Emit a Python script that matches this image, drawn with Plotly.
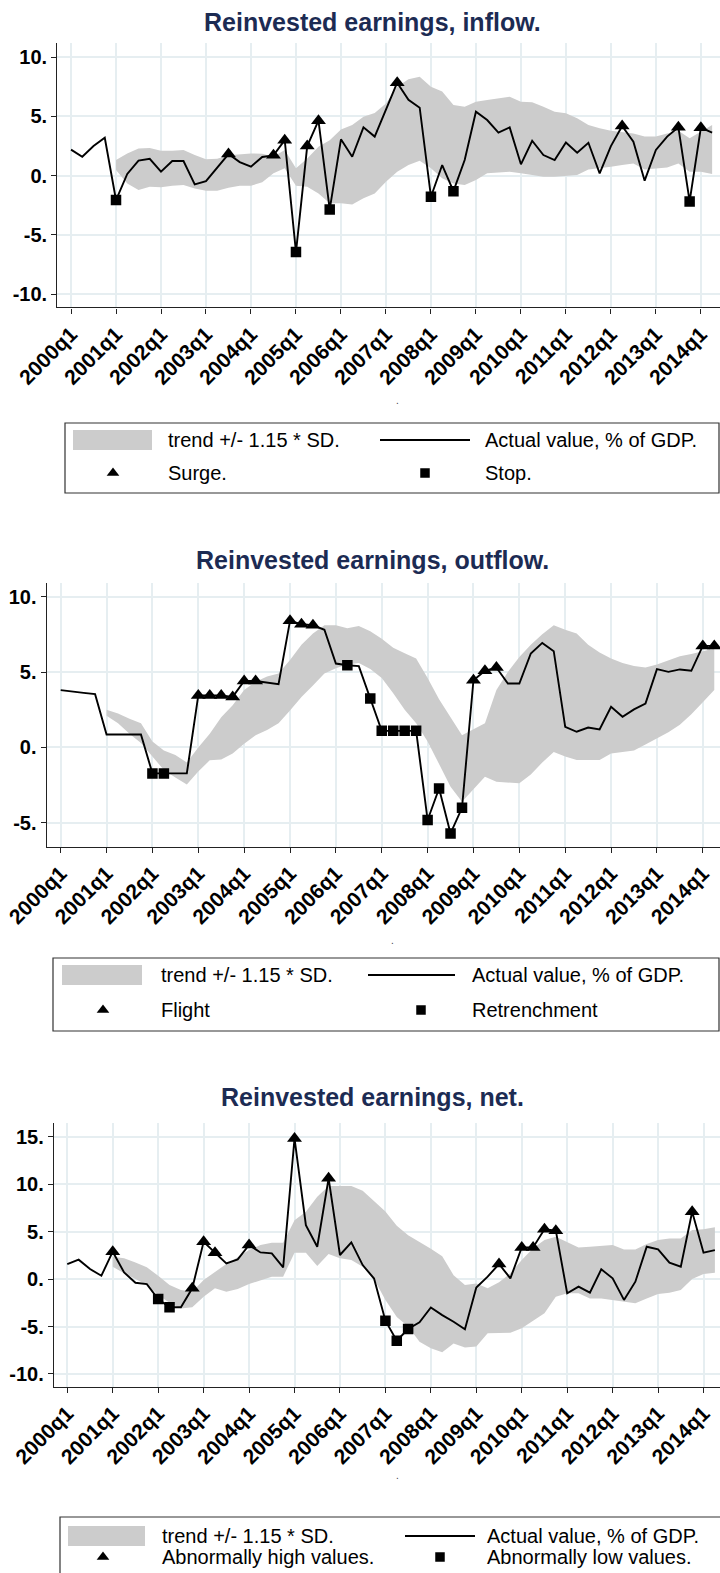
import plotly.graph_objects as go

W, H = 720, 1573
FONT = "Liberation Sans, Arial, sans-serif"
TITLE_COLOR = "#1c2b53"
BAND_COLOR = "#cccccc"
GRID_COLOR = "#e6eef1"

# ---------------- data ----------------
quarters = [f"{y}q{q}" for y in range(2000, 2015) for q in range(1, 5)][:58]
tick_labels = ["2000q1", "2001q1", "2002q1", "2003q1", "2004q1", "2005q1", "2006q1",
               "2007q1", "2008q1", "2009q1", "2010q1", "2011q1", "2012q1", "2013q1", "2014q1"]
band_quarters = quarters[4:]  # trend band starts in 2001q1

inflow_actual = [2.2, 1.6, 2.5, 3.2, -2.05, 0.15, 1.27, 1.43, 0.34, 1.24,
                 1.24, -0.73, -0.45, 0.68, 1.83, 1.15, 0.76, 1.58, 1.72, 3.0,
                 -6.44, 2.5, 4.64, -2.84, 3.07, 1.6, 4.08, 3.3, 5.5, 7.85,
                 6.4, 5.74, -1.77, 0.9, -1.3, 1.32, 5.4, 4.7, 3.63, 4.08,
                 0.96, 2.95, 1.74, 1.32, 2.8, 1.94, 2.78, 0.2, 2.5, 4.19,
                 2.87, -0.42, 2.17, 3.3, 4.08, -2.17, 4.05, 3.63]
inflow_upper = [1.32, 1.88, 2.3, 2.33, 2.1, 2.1, 2.17, 1.74, 1.38, 1.43,
                1.72, 1.83, 1.88, 1.86, 1.6, 2.17, 0.62, 1.46, 2.45, 3.0,
                3.9, 4.28, 4.98, 5.3, 6.1, 7.5, 8.13, 8.35, 7.5, 7.1,
                5.96, 5.82, 6.24, 6.38, 6.5, 6.67, 6.24, 6.19, 5.82, 5.4,
                5.26, 4.84, 4.28, 4.0, 3.8, 3.71, 3.57, 3.3, 3.3, 3.57,
                3.8, 3.15, 3.71, 4.28]
inflow_lower = [0.48, -0.65, -1.2, -0.93, -0.98, -0.84, -0.79, -1.07, -1.27, -1.27,
                -1.01, -0.84, -0.84, -0.56, 0.2, 0.62, -0.84, -0.93, -1.49, -2.33,
                -2.33, -2.42, -1.91, -1.49, -0.5, 0.34, 0.9, 1.27, 0.62, -0.22,
                -0.65, -0.79, -0.37, 0.2, 0.28, 0.34, 0.2, 0.06, -0.08, -0.08,
                -0.03, 0.06, 0.53, 0.62, 0.76, 0.9, 1.04, 0.53, 0.62, 0.7,
                1.04, 0.34, 0.34, 0.14]
inflow_high_idx = [14, 18, 19, 21, 22, 29, 49, 54, 56]
inflow_low_idx = [4, 20, 23, 32, 34, 55]

outflow_actual = [3.8, 3.69, 3.62, 3.53, 0.86, 0.86, 0.86, 0.86, -1.72, -1.72,
                  -1.72, -1.72, 3.45, 3.45, 3.45, 3.35, 4.4, 4.4, 4.28, 4.2,
                  8.39, 8.17, 8.1, 7.8, 5.56, 5.45, 5.39, 3.25, 1.1, 1.1,
                  1.1, 1.1, -4.81, -2.72, -5.7, -4.0, 4.46, 5.08, 5.3, 4.24,
                  4.24, 6.23, 6.93, 6.38, 1.37, 1.04, 1.32, 1.19, 2.69, 2.03,
                  2.52, 2.91, 5.19, 5.01, 5.17, 5.08, 6.73, 6.73]
outflow_upper = [2.5, 2.25, 1.9, 1.6, 0.4, -0.2, -0.5, -1.0, 0.0, 0.9,
                 2.0, 2.8, 3.8, 4.35, 4.7, 4.9, 5.8, 6.8, 7.55, 8.1,
                 8.1, 7.9, 8.05, 7.7, 7.2, 6.6, 6.25, 5.9, 4.6, 3.2,
                 2.0, 0.8, 1.2, 1.6, 3.8, 5.0, 6.0, 6.8, 7.5, 8.1,
                 7.8, 7.55, 6.8, 6.3, 5.9, 5.6, 5.4, 5.3, 5.5, 5.75,
                 6.05, 6.2, 6.35, 6.55]
outflow_lower = [2.1, 1.6, 0.9, 0.3, -0.6, -1.5, -2.0, -2.45, -1.6, -0.85,
                 -0.8, -0.4, 0.25, 0.8, 1.15, 1.6, 2.45, 3.35, 4.1, 4.9,
                 5.25, 5.5, 5.6, 5.2, 4.6, 3.6, 2.5, 1.6, 0.4, -1.1,
                 -2.6, -3.6, -2.8, -1.95, -2.28, -2.35, -2.38, -1.8, -1.0, -0.3,
                 -0.6, -0.84, -0.84, -0.84, -0.4, -0.3, -0.2, 0.2, 0.6, 1.0,
                 1.5, 2.2, 3.0, 3.8]
outflow_high_idx = [12, 13, 14, 15, 16, 17, 20, 21, 22, 36, 37, 38, 56, 57]
outflow_low_idx = [8, 9, 25, 27, 28, 29, 30, 31, 32, 33, 34, 35]

net_actual = [1.58, 2.04, 1.05, 0.35, 2.88, 0.7, -0.39, -0.53, -2.1, -2.98,
              -2.98, -0.98, 3.93, 2.77, 1.65, 2.07, 3.58, 2.8, 2.7, 1.23,
              14.8, 5.68, 3.4, 10.6, 2.53, 3.86, 1.47, 0.05, -4.39, -6.5,
              -5.26, -4.56, -3.0, -3.8, -4.5, -5.3, -0.9, 0.25, 1.58, 0.07,
              3.33, 3.33, 5.23, 5.09, -1.5, -0.8, -1.44, 1.02, 0.07, -2.2,
              -0.28, 3.4, 3.12, 1.72, 1.3, 7.09, 2.77, 3.05]
net_upper = [2.35, 2.18, 1.75, 1.23, 0.35, -0.63, -1.16, -1.33, -0.1, 0.77,
             1.58, 2.28, 3.05, 3.58, 3.82, 3.82, 6.2, 7.09, 8.67, 9.79,
             9.79, 9.79, 9.3, 8.2, 7.1, 5.6, 4.6, 3.9, 3.2, 2.4,
             0.4, -0.63, -0.46, -0.98, -0.35, 0.6, 2.0, 3.23, 4.1, 4.46,
             3.93, 3.33, 3.4, 3.47, 3.58, 3.12, 3.12, 3.68, 4.1, 4.28,
             4.28, 5.16, 5.23, 5.44]
net_lower = [1.3, 0.6, 0.0, -0.63, -1.68, -2.49, -3.1, -2.98, -1.86, -0.98,
             -1.33, -1.05, -0.53, -0.1, 0.25, 0.25, 2.77, 2.77, 1.37, 2.63,
             2.18, 2.0, 1.3, 0.0, -2.2, -4.0, -5.0, -6.6, -7.3, -7.7,
             -6.8, -7.2, -7.1, -5.72, -5.65, -5.65, -5.19, -4.39, -3.6, -1.86,
             -1.51, -1.51, -2.04, -2.04, -2.21, -2.39, -2.56, -2.04, -1.58, -1.44,
             -1.16, 0.0, 0.53, 0.67]
net_high_idx = [4, 11, 12, 13, 16, 20, 23, 38, 40, 41, 42, 43, 55]
net_low_idx = [8, 9, 28, 29, 30]

band_label = "trend +/- 1.15 * SD."
line_label = "Actual value, % of GDP."

panels = [
    dict(title="Reinvested earnings, inflow.", actual=inflow_actual, upper=inflow_upper,
         lower=inflow_lower, hi=inflow_high_idx, lo=inflow_low_idx,
         hi_label="Surge.", lo_label="Stop.",
         yticks=[-10, -5, 0, 5, 10], yrange=[-11.1, 11.17], xrange=[-1.22, 57.7],
         box=(57.3, 43.3, 720, 307.3), title_y=22, dot=(397, 400),
         leg=dict(box=(65, 423, 719, 493), rows=(440, 473), sw=(73, 152), ln=(380, 470),
                  tri=113, sq=425, t1=166, t2=483)),
    dict(title="Reinvested earnings, outflow.", actual=outflow_actual, upper=outflow_upper,
         lower=outflow_lower, hi=outflow_high_idx, lo=outflow_low_idx,
         hi_label="Flight", lo_label="Retrenchment",
         yticks=[-5, 0, 5, 10], yrange=[-6.58, 10.9], xrange=[-1.22, 57.5],
         box=(46.7, 583, 720, 846.7), title_y=560, dot=(393, 940),
         leg=dict(box=(53, 958, 719, 1031), rows=(975, 1010), sw=(62, 142), ln=(368, 455),
                  tri=103, sq=421, t1=159, t2=470)),
    dict(title="Reinvested earnings, net.", actual=net_actual, upper=net_upper,
         lower=net_lower, hi=net_high_idx, lo=net_low_idx,
         hi_label="Abnormally high values.", lo_label="Abnormally low values.",
         yticks=[-10, -5, 0, 5, 10, 15], yrange=[-11.34, 16.4], xrange=[-1.17, 57.45],
         box=(54, 1123.3, 720, 1386.7), title_y=1097, dot=(397, 1475),
         leg=dict(box=(60, 1517, 722, 1585), rows=(1536, 1557), sw=(68, 145), ln=(405, 475),
                  tri=103, sq=440, t1=160, t2=485)),
]


def fx(x):
    return x / W


def fy(y):
    return 1 - y / H


fig = go.Figure()
shapes = []
annotations = []
layout_axes = {}

for k, p in enumerate(panels, start=1):
    xa = "x" if k == 1 else f"x{k}"
    ya = "y" if k == 1 else f"y{k}"
    xname = "xaxis" if k == 1 else f"xaxis{k}"
    yname = "yaxis" if k == 1 else f"yaxis{k}"

    # band
    fig.add_trace(go.Scatter(x=band_quarters, y=p["lower"], mode="lines",
                             line=dict(width=0, color=BAND_COLOR), hoverinfo="skip",
                             showlegend=False, xaxis=xa, yaxis=ya))
    fig.add_trace(go.Scatter(x=band_quarters, y=p["upper"], mode="lines", fill="tonexty",
                             fillcolor=BAND_COLOR, line=dict(width=0, color=BAND_COLOR),
                             showlegend=False, xaxis=xa, yaxis=ya))
    # actual
    fig.add_trace(go.Scatter(x=quarters, y=p["actual"], mode="lines",
                             line=dict(color="black", width=1.9),
                             showlegend=False, xaxis=xa, yaxis=ya))
    fig.add_trace(go.Scatter(x=[quarters[i] for i in p["hi"]], y=[p["actual"][i] for i in p["hi"]],
                             mode="markers", marker=dict(symbol="triangle-up", size=13, color="black"),
                             showlegend=False, xaxis=xa, yaxis=ya))
    fig.add_trace(go.Scatter(x=[quarters[i] for i in p["lo"]], y=[p["actual"][i] for i in p["lo"]],
                             mode="markers", marker=dict(symbol="square", size=10.5, color="black"),
                             showlegend=False, xaxis=xa, yaxis=ya))

    x0, y0, x1, y1 = p["box"]
    layout_axes[xname] = dict(
        domain=[fx(x0), fx(x1)], anchor=ya, type="category", automargin=False,
        categoryorder="array", categoryarray=quarters, range=p["xrange"],
        tickmode="array", tickvals=tick_labels, ticktext=tick_labels, tickangle=-45,
        tickfont=dict(family=FONT, size=21, color="black", weight="bold"),
        showgrid=True, gridcolor=GRID_COLOR, gridwidth=1.6,
        showline=True, linecolor="#222", linewidth=1.4,
        ticks="outside", ticklen=5, tickcolor="#222", tickwidth=1.2, zeroline=False,
    )
    layout_axes[yname] = dict(
        domain=[fy(y1), fy(y0)], anchor=xa, range=p["yrange"], automargin=False,
        tickmode="array", tickvals=p["yticks"], ticktext=[f"{v}." for v in p["yticks"]],
        tickfont=dict(family=FONT, size=20, color="black", weight="bold"),
        showgrid=True, gridcolor=GRID_COLOR, gridwidth=1.6,
        showline=True, linecolor="#222", linewidth=1.4,
        ticks="outside", ticklen=5, tickcolor="#222", tickwidth=1.2, zeroline=False,
    )

    annotations.append(dict(x=fx(372), y=fy(p["title_y"]), xref="paper", yref="paper",
                            text=p["title"], showarrow=False, xanchor="center", yanchor="middle",
                            font=dict(family=FONT, size=25, color=TITLE_COLOR, weight="bold")))
    annotations.append(dict(x=fx(p["dot"][0]), y=fy(p["dot"][1]), xref="paper", yref="paper",
                            text=".", showarrow=False, xanchor="center", yanchor="middle",
                            font=dict(family=FONT, size=10, color="#444")))

    L = p["leg"]
    bx0, by0, bx1, by1 = L["box"]
    r1, r2 = L["rows"]
    shapes.append(dict(type="rect", xref="paper", yref="paper", x0=fx(bx0), x1=fx(bx1),
                       y0=fy(by1), y1=fy(by0), line=dict(color="#333", width=1.2),
                       fillcolor="rgba(0,0,0,0)"))
    shapes.append(dict(type="rect", xref="paper", yref="paper", x0=fx(L["sw"][0]), x1=fx(L["sw"][1]),
                       y0=fy(r1 + 10), y1=fy(r1 - 10), line=dict(width=0), fillcolor=BAND_COLOR))
    shapes.append(dict(type="line", xref="paper", yref="paper", x0=fx(L["ln"][0]), x1=fx(L["ln"][1]),
                       y0=fy(r1), y1=fy(r1), line=dict(color="black", width=1.8)))
    for txt, tx, ty in [(band_label, L["t1"], r1), (line_label, L["t2"], r1),
                        (p["hi_label"], L["t1"], r2), (p["lo_label"], L["t2"], r2)]:
        annotations.append(dict(x=fx(tx), y=fy(ty), xref="paper", yref="paper", text=txt,
                                showarrow=False, xanchor="left", yanchor="middle",
                                font=dict(family=FONT, size=20, color="black")))
    # legend symbols on the full-page overlay axes
    fig.add_trace(go.Scatter(x=[L["tri"]], y=[r2], mode="markers",
                             marker=dict(symbol="triangle-up", size=11, color="black"),
                             showlegend=False, hoverinfo="skip", xaxis="x4", yaxis="y4"))
    fig.add_trace(go.Scatter(x=[L["sq"]], y=[r2], mode="markers",
                             marker=dict(symbol="square", size=9.5, color="black"),
                             showlegend=False, hoverinfo="skip", xaxis="x4", yaxis="y4"))

layout_axes["xaxis4"] = dict(domain=[0, 1], range=[0, W], visible=False, anchor="y4",
                             fixedrange=True, automargin=False)
layout_axes["yaxis4"] = dict(domain=[0, 1], range=[H, 0], visible=False, anchor="x4",
                             fixedrange=True, automargin=False)

fig.update_layout(
    width=W, height=H, autosize=False,
    margin=dict(l=0, r=0, t=0, b=0, pad=0, autoexpand=False),
    paper_bgcolor="white", plot_bgcolor="rgba(0,0,0,0)",
    showlegend=False, shapes=shapes, annotations=annotations,
    font=dict(family=FONT, color="black"),
    **layout_axes,
)

# remove the browser's default 8px page margin so the 720x1573 figure fills the window exactly
fig.write_html("out.html", config={"displayModeBar": False},
               post_script="document.body.style.margin='0px';document.body.style.overflow='hidden';")
